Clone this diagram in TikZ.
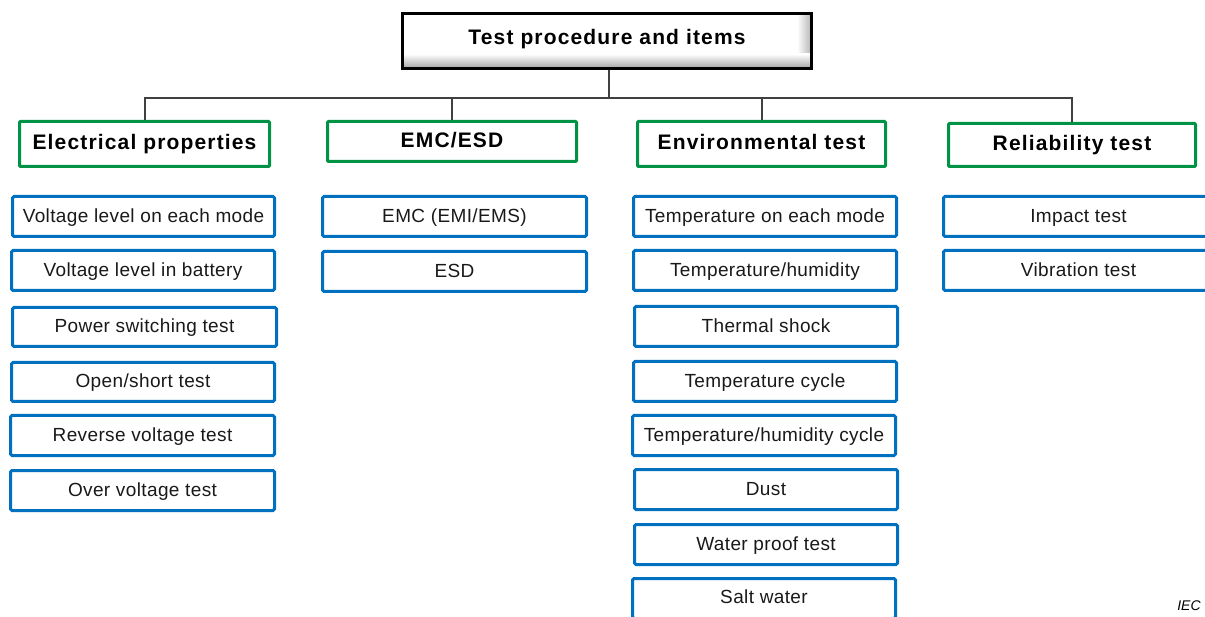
\documentclass[tikz,border=0pt]{standalone}
\usepackage{fontspec}
\setmainfont{Liberation Sans}
\newfontfamily\hdrfont[LetterSpace=5.5]{Liberation Sans}
\newfontfamily\itemfont[LetterSpace=2]{Liberation Sans}
\definecolor{itemblue}{RGB}{0,112,192}
\definecolor{hdrgreen}{RGB}{0,146,69}
\definecolor{conngray}{RGB}{64,64,64}
\tikzset{
  item/.style={draw=itemblue, line width=3pt, rounded corners=1.5pt, minimum height=40pt,
    inner sep=0pt, text height=14pt, text depth=2.5pt,
    font=\itemfont\fontsize{19}{22}\selectfont, text=black!90},
  hdr/.style={draw=hdrgreen, line width=3pt, rounded corners=1pt, inner sep=0pt,
    text height=15.7pt, text depth=3.7pt,
    font=\hdrfont\bfseries\fontsize{21}{24}\selectfont},
  conn/.style={draw=conngray, line width=2pt},
}
\begin{document}
\begin{tikzpicture}[x=1pt,y=-1pt]
\useasboundingbox (0,0) rectangle (1205,617);
\clip (0,0) rectangle (1205,617);
% top box inner shadow
\shade[left color=white, right color=black!28] (797,14) rectangle (811,68);
\shade[top color=white, bottom color=black!35] (403,54) rectangle (811,68);
\node[draw=black, line width=3.5pt, minimum width=409pt, minimum height=55pt, inner sep=0pt,
  text height=15.7pt, text depth=7.7pt,
  font=\hdrfont\bfseries\fontsize{21}{24}\selectfont] (top) at (607,41) {Test procedure and items};
% headers
\node[hdr, minimum width=250pt, minimum height=45pt] (h1) at (144.5,144) {Electrical properties};
\node[hdr, minimum width=249pt, minimum height=40pt] (h2) at (452,141.5) {EMC/ESD};
\node[hdr, minimum width=248pt, minimum height=45pt] (h3) at (761.5,144) {Environmental test};
\node[hdr, minimum width=247pt, minimum height=43pt] (h4) at (1072,145) {Reliability test};
% connectors
\coordinate (j) at (609,98);
\draw[conn] (top.south -| j) -- (j);
\draw[conn] (h1.north) |- (h4.north |- j) -- (h4.north);
\draw[conn] (h2.north) -- (h2.north |- j);
\draw[conn] (h3.north) -- (h3.north |- j);
% column 1
\node[item, minimum width=262pt] (a1) at (143.5,216.5) {Voltage level on each mode};
\node[item, minimum width=263pt] (a2) at (143,270.5) {Voltage level in battery};
\node[item, minimum width=264pt, minimum height=39pt] (a3) at (144.5,327) {Power switching test};
\node[item, minimum width=263pt, minimum height=39pt] (a4) at (143,382) {Open/short test};
\node[item, minimum width=264pt] (a5) at (142.5,435.5) {Reverse voltage test};
\node[item, minimum width=264pt] (a6) at (142.5,490.5) {Over voltage test};
% column 2
\node[item, minimum width=264pt] (b1) at (454.5,216.5) {EMC (EMI/EMS)};
\node[item, minimum width=264pt] (b2) at (454.5,271.5) {ESD};
% column 3
\node[item, minimum width=263pt] (c1) at (765,216.5) {Temperature on each mode};
\node[item, minimum width=263pt] (c2) at (765,270.5) {Temperature/humidity};
\node[item, minimum width=263pt] (c3) at (766,326.5) {Thermal shock};
\node[item, minimum width=263pt] (c4) at (765,381.5) {Temperature cycle};
\node[item, minimum width=263pt] (c5) at (764,435.5) {Temperature/humidity cycle};
\node[item, minimum width=263pt] (c6) at (766,489.5) {Dust};
\node[item, minimum width=263pt] (c7) at (766,544.5) {Water proof test};
\node[item, minimum width=263pt] (c8) at (764,598.5) {\raisebox{1pt}{Salt water}};
% column 4
\node[item, minimum width=270pt] (d1) at (1078.5,216.5) {Impact test};
\node[item, minimum width=270pt] (d2) at (1078.5,270.5) {Vibration test};
% label
\node[font=\itshape\fontsize{14}{16}\selectfont, inner sep=0pt] (iec) at (1189,606) {IEC};
\end{tikzpicture}
\end{document}
